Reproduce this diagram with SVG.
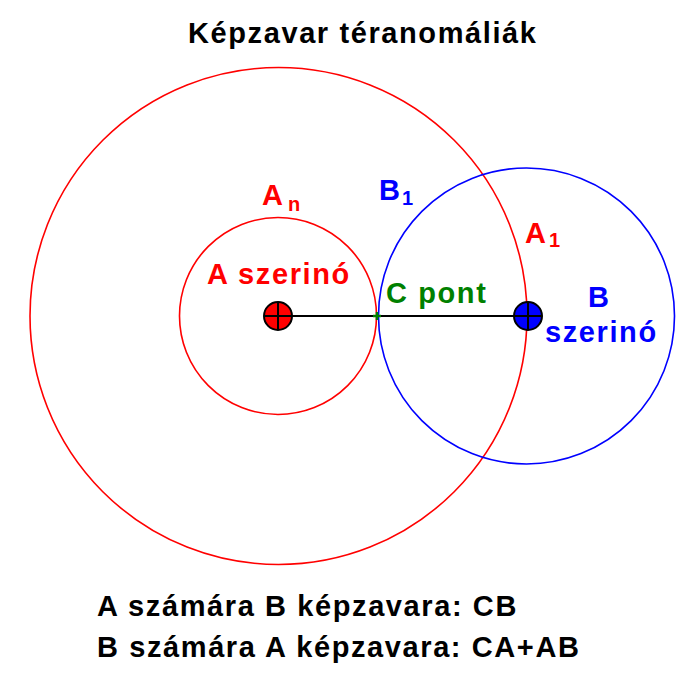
<svg xmlns="http://www.w3.org/2000/svg" width="700" height="700" viewBox="0 0 700 700">
<style>
text { font-family: "Liberation Sans", Arial, sans-serif; font-weight: bold; font-size: 29px; letter-spacing: 1.6px; }
.sub { font-size: 20px; letter-spacing: 0; }
.red { fill: #FF0000; }
.blue { fill: #0000FF; }
.green { fill: #008000; }
.ring { fill: none; stroke-width: 1.6; }
.marker { stroke: #000; stroke-width: 2; }
</style>
<rect width="700" height="700" fill="#FFFFFF"/>
<text id="title" x="188" y="43" fill="#000">Képzavar téranomáliák</text>
<g id="circles">
  <circle id="circle-A1" class="ring" cx="278.5" cy="316" r="248.5" stroke="#FF0000"/>
  <circle id="circle-An" class="ring" cx="278" cy="316" r="98.5" stroke="#FF0000"/>
  <circle id="circle-B1" class="ring" cx="526.5" cy="316" r="148" stroke="#0000FF"/>
</g>
<g id="connectors">
  <line x1="278" y1="316" x2="528" y2="316" stroke="#000" stroke-width="2"/>
</g>
<g id="node-A">
  <circle class="marker" cx="278" cy="316" r="14" fill="#FF0000"/>
  <line class="marker" x1="264" y1="316" x2="292" y2="316"/>
  <line class="marker" x1="278" y1="302" x2="278" y2="330"/>
  <text class="red" x="207" y="284">A szerinó</text>
</g>
<g id="node-B">
  <circle class="marker" cx="528" cy="316" r="14" fill="#0000FF"/>
  <line class="marker" x1="514" y1="316" x2="542" y2="316"/>
  <line class="marker" x1="528" y1="302" x2="528" y2="330"/>
  <text class="blue" x="588" y="307">B</text>
  <text class="blue" x="545" y="342">szerinó</text>
</g>
<g id="node-C">
  <line x1="373" y1="316" x2="381" y2="316" stroke="#008000" stroke-width="2.5"/>
  <line x1="377" y1="312" x2="377" y2="320" stroke="#008000" stroke-width="2.5"/>
  <text class="green" x="386" y="303">C pont</text>
</g>
<g id="label-An">
  <text class="red" x="262" y="205">A</text>
  <text class="red sub" x="288" y="211">n</text>
</g>
<g id="label-B1">
  <text class="blue" x="379" y="200">B</text>
  <text class="blue sub" x="402" y="205">1</text>
</g>
<g id="label-A1">
  <text class="red" x="525" y="243">A</text>
  <text class="red sub" x="549" y="247">1</text>
</g>
<g id="caption">
  <text x="97" y="616" fill="#000">A számára B képzavara: CB</text>
  <text x="97" y="657" fill="#000">B számára A képzavara: CA+AB</text>
</g>
</svg>
